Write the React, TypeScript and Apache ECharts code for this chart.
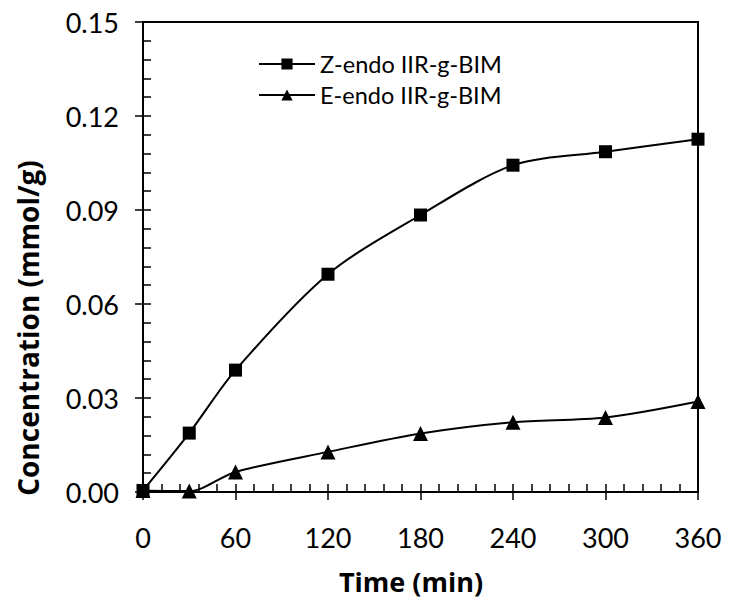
import React, { useEffect, useRef } from "react";
import * as echarts from "echarts";

const times = [0, 30, 60, 120, 180, 240, 300, 360];
const zEndo = [0.0005, 0.0188, 0.0389, 0.0695, 0.0884, 0.1043, 0.1086, 0.1126];
const eEndo = [0.0005, 0.0003, 0.0064, 0.0128, 0.0187, 0.0223, 0.0238, 0.0289];
const seriesNames = ["Z-endo IIR-g-BIM", "E-endo IIR-g-BIM"];
const xTitle = "Time (min)";
const yTitle = "Concentration (mmol/g)";

const FONT = "Lato";
const TITLE_FONT = "Open Sans";

export default function App() {
  const ref = useRef<HTMLDivElement>(null);
  useEffect(() => {
    if (!ref.current) return;
    const chart = echarts.init(ref.current, null, { renderer: "svg" });
    const axisLine = { show: true, onZero: false, lineStyle: { color: "#000", width: 2 } };
    const xCommon = { type: "value", min: 0, max: 360, interval: 60, position: "bottom", splitLine: { show: false } };
    const yCommon = { type: "value", min: 0, max: 0.15, interval: 0.03, position: "left", splitLine: { show: false } };
    chart.setOption({
      animation: false,
      backgroundColor: "#fff",
      grid: {
        left: 143, right: 32, top: 22, bottom: 113,
        show: true, borderColor: "#000", borderWidth: 2, backgroundColor: "transparent",
      },
      graphic: [
        {
          type: "text",
          x: 411,
          y: 581,
          style: {
            text: xTitle, fontFamily: TITLE_FONT, fontSize: 27, fontWeight: "bold", fill: "#000",
            align: "center", verticalAlign: "middle",
          },
        },
        {
          type: "text",
          x: 28,
          y: 328,
          rotation: Math.PI / 2,
          style: {
            text: yTitle, fontFamily: TITLE_FONT, fontSize: 28, fontWeight: "bold", fill: "#000",
            align: "center", verticalAlign: "middle",
          },
        },
      ],
      legend: {
        orient: "vertical",
        left: 253,
        top: 47,
        itemWidth: 56,
        itemHeight: 14,
        itemGap: 7,
        textStyle: { fontFamily: FONT, fontSize: 23.5, color: "#000" },
        data: seriesNames,
      },
      xAxis: [
        {
          ...xCommon,
          axisLine,
          axisTick: { show: true, inside: false, length: 8, lineStyle: { color: "#000", width: 1.5 } },
          axisLabel: { fontFamily: FONT, fontSize: 27, color: "#000", margin: 32 },
        },
        {
          ...xCommon,
          axisLine: { ...axisLine },
          axisTick: { show: true, inside: true, length: 8, lineStyle: { color: "#000", width: 1.5 } },
          minorTick: { show: true, splitNumber: 5, length: 8, lineStyle: { color: "#000", width: 1.5 } },
          axisLabel: { show: false },
        },
      ],
      yAxis: [
        {
          ...yCommon,
          axisLine,
          axisTick: { show: true, inside: false, length: 8, lineStyle: { color: "#000", width: 1.5 } },
          axisLabel: { fontFamily: FONT, fontSize: 27, color: "#000", margin: 24, formatter: (v: number) => v.toFixed(2) },
        },
        {
          ...yCommon,
          axisLine: { ...axisLine },
          axisTick: { show: true, inside: true, length: 8, lineStyle: { color: "#000", width: 1.5 } },
          minorTick: { show: true, splitNumber: 5, length: 8, lineStyle: { color: "#000", width: 1.5 } },
          axisLabel: { show: false },
        },
      ],
      series: [
        {
          name: seriesNames[0],
          type: "line",
          xAxisIndex: 0,
          yAxisIndex: 0,
          data: times.map((t, i) => [t, zEndo[i]]),
          smooth: 0.3,
          symbol: "rect",
          symbolSize: 13,
          itemStyle: { color: "#000" },
          lineStyle: { color: "#000", width: 2 },
        },
        {
          name: seriesNames[1],
          type: "line",
          xAxisIndex: 0,
          yAxisIndex: 0,
          data: times.map((t, i) => [t, eEndo[i]]),
          smooth: 0.3,
          symbol: "triangle",
          symbolSize: 15,
          itemStyle: { color: "#000" },
          lineStyle: { color: "#000", width: 2 },
        },
      ],
    });
    return () => chart.dispose();
  }, []);
  return <div ref={ref} style={{ width: 730, height: 605, margin: -8 }} />;
}
